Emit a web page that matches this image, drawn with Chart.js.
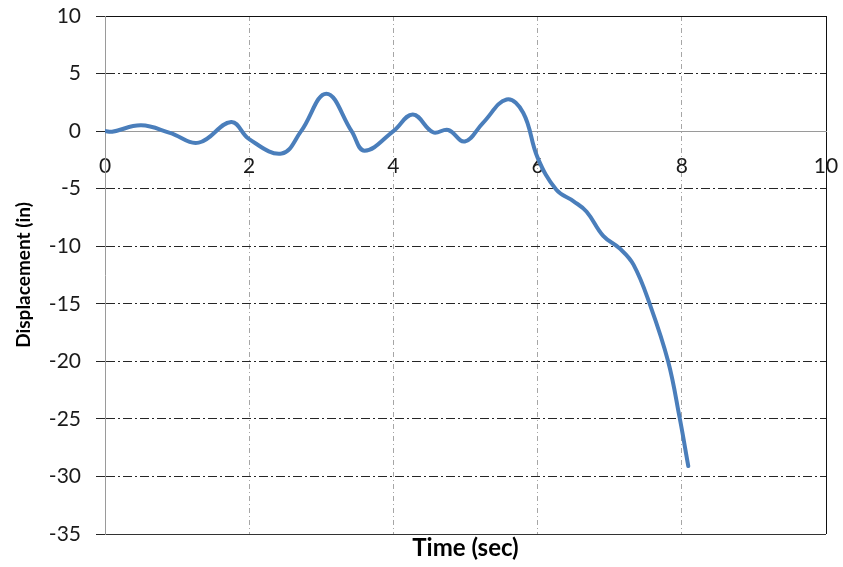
<!DOCTYPE html>
<html>
<head>
<meta charset="utf-8">
<script src="https://cdn.jsdelivr.net/npm/chart.js@4/dist/chart.umd.min.js"></script>
<style>
  html, body { margin: 0; padding: 0; background: #ffffff; }
  #wrap { width: 843px; height: 567px; position: relative; }
</style>
</head>
<body>
<div id="wrap"><canvas id="c" width="843" height="567"></canvas></div>
<script>
// Time history of displacement
const timeSec = [0, 0.1, 0.5, 0.9, 1.3, 1.75, 2.0, 2.45, 2.72, 3.07, 3.42, 3.6, 4.0, 4.27, 4.55, 4.76, 4.99, 5.24, 5.57, 5.8, 6.0, 6.26, 6.5, 6.68, 6.91, 7.14, 7.33, 7.56, 7.81, 7.97, 8.09];
const displacementIn = [0, -0.05, 0.5, -0.15, -1.0, 0.8, -0.7, -1.95, 0, 3.25, 0, -1.7, 0, 1.45, -0.1, 0.1, -0.9, 0.7, 2.75, 1.6, -2.3, -5.1, -6.1, -7.0, -9.1, -10.2, -11.6, -15.1, -20.0, -24.9, -29.1];

// Axis ranges and tick spacing
const xRange = [0, 10];
const xStep = 2;
const yRange = [-35, 10];
const yStep = 5;

const axisTitleX = 'Time (sec)';
const axisTitleY = 'Displacement (in)';

const FONT = 'Lato, "Liberation Sans", sans-serif';
const BLUE = '#4a7ebb';
const AXIS_GRAY = '#9a9a9a';
const DARK = '#262626';
const LIGHT = '#a6a6a6';

const points = timeSec.map((t, i) => ({ x: t, y: displacementIn[i] }));

// keep the plot frame fixed: only the layout padding sets the margins
const noEdgePadding = scale => {
  scale.paddingLeft = 0;
  scale.paddingRight = 0;
  scale.paddingTop = 0;
  scale.paddingBottom = 0;
};

new Chart(document.getElementById('c'), {
  type: 'line',
  data: {
    datasets: [{
      data: points,
      borderColor: BLUE,
      borderWidth: 4,
      pointRadius: 0,
      tension: 0.4,
      fill: false,
      borderCapStyle: 'round',
      borderJoinStyle: 'round'
    }]
  },
  options: {
    responsive: false,
    animation: false,
    devicePixelRatio: 1,
    layout: { padding: { top: 16, right: 17, left: 0, bottom: 0 } },
    plugins: { legend: { display: false }, tooltip: { enabled: false } },
    scales: {
      x: {
        type: 'linear',
        min: xRange[0],
        max: xRange[1],
        position: { y: 0 },
        ticks: {
          stepSize: xStep,
          padding: 23,
          color: '#1a1a1a',
          font: { family: FONT, size: 21 }
        },
        grid: {
          drawTicks: false,
          lineWidth: 1,
          color: ctx => {
            const v = ctx.tick ? ctx.tick.value : null;
            if (v === xRange[0]) return 'rgba(0,0,0,0)';
            if (v === xRange[1]) return '#111111';
            return LIGHT;
          }
        },
        border: {
          display: true,
          color: AXIS_GRAY,
          width: 1,
          dash: ctx => (ctx.tick && ctx.tick.value === xRange[1]) ? [] : [5, 3, 1, 3]
        },
        afterFit: noEdgePadding
      },
      xTitle: {
        type: 'linear',
        axis: 'x',
        min: xRange[0],
        max: xRange[1],
        position: 'bottom',
        ticks: { display: false },
        grid: { display: false },
        border: { display: false },
        title: {
          display: true,
          text: axisTitleX,
          color: '#000000',
          font: { family: FONT, size: 24, weight: 'bold' },
          padding: { top: 0, bottom: 4 }
        },
        afterFit: scale => { noEdgePadding(scale); scale.height = 33; }
      },
      y: {
        type: 'linear',
        min: yRange[0],
        max: yRange[1],
        position: 'left',
        ticks: {
          stepSize: yStep,
          padding: 15,
          color: '#1a1a1a',
          font: { family: FONT, size: 21 }
        },
        grid: {
          drawTicks: true,
          tickLength: 9,
          tickColor: DARK,
          tickBorderDash: [],
          lineWidth: 1,
          color: ctx => {
            const v = ctx.tick ? ctx.tick.value : null;
            if (v === 0) return 'rgba(0,0,0,0)';
            if (v === yRange[1]) return '#111111';
            if (v === yRange[0]) return '#333333';
            return DARK;
          }
        },
        border: {
          display: true,
          color: AXIS_GRAY,
          width: 1,
          dash: ctx => {
            const v = ctx.tick ? ctx.tick.value : null;
            return (v === yRange[0] || v === yRange[1]) ? [] : [9, 3, 2, 3];
          }
        },
        title: {
          display: true,
          text: axisTitleY,
          color: '#000000',
          font: { family: FONT, size: 19, weight: 'bold' },
          padding: { top: 12, bottom: 0 }
        },
        afterFit: scale => { noEdgePadding(scale); scale.width = 105; }
      }
    }
  }
});
</script>
</body>
</html>
